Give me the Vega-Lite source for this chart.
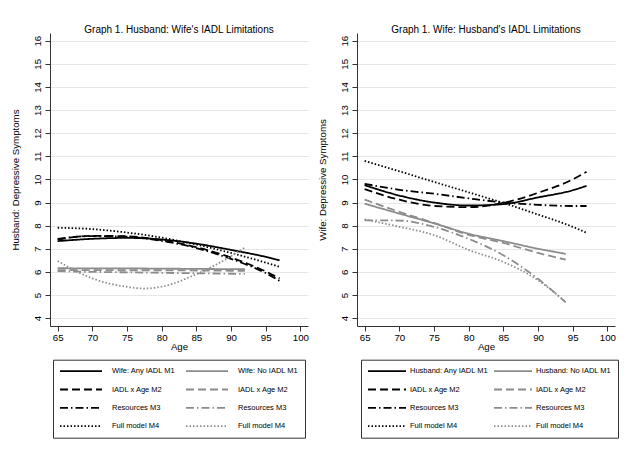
{
  "$schema": "https://vega.github.io/schema/vega-lite/v6.json",
  "background": "white",
  "padding": {"left": 9, "top": 25, "right": 0, "bottom": 0},
  "spacing": 7,
  "config": {
    "font": "Liberation Sans",
    "view": {"stroke": null},
    "axis": {"labelFont": "Liberation Sans", "titleFont": "Liberation Sans", "labelFontSize": 9.7, "titleFontSize": 9.7, "titleFontWeight": "normal", "labelColor": "black", "titleColor": "black", "domainColor": "#333333", "tickColor": "#333333", "gridColor": "#e6e6e6", "tickSize": 5},
    "title": {"font": "Liberation Sans", "fontSize": 10, "fontWeight": "normal", "anchor": "middle", "color": "black", "offset": -2},
    "legend": {"labelFont": "Liberation Sans", "labelFontSize": 7.5, "labelColor": "black"}
  },
  "datasets": {
    "L": [
      {"k":"1","a":65,"v":7.33},{"k":"1","a":70,"v":7.43},{"k":"1","a":75,"v":7.47},{"k":"1","a":80,"v":7.4},{"k":"1","a":85,"v":7.22},{"k":"1","a":90,"v":6.95},{"k":"1","a":95,"v":6.65},{"k":"1","a":97,"v":6.5},
      {"k":"3","a":65,"v":7.4},{"k":"3","a":70,"v":7.56},{"k":"3","a":75,"v":7.54},{"k":"3","a":80,"v":7.37},{"k":"3","a":85,"v":7.07},{"k":"3","a":90,"v":6.62},{"k":"3","a":95,"v":6.02},{"k":"3","a":97,"v":5.72},
      {"k":"5","a":65,"v":7.43},{"k":"5","a":70,"v":7.55},{"k":"5","a":75,"v":7.52},{"k":"5","a":80,"v":7.34},{"k":"5","a":85,"v":7.03},{"k":"5","a":90,"v":6.56},{"k":"5","a":95,"v":5.95},{"k":"5","a":97,"v":5.61},
      {"k":"7","a":65,"v":7.91},{"k":"7","a":70,"v":7.85},{"k":"7","a":75,"v":7.7},{"k":"7","a":80,"v":7.48},{"k":"7","a":85,"v":7.18},{"k":"7","a":90,"v":6.82},{"k":"7","a":95,"v":6.4},{"k":"7","a":97,"v":6.22},
      {"k":"2","a":65,"v":6.16},{"k":"2","a":70,"v":6.15},{"k":"2","a":75,"v":6.15},{"k":"2","a":80,"v":6.14},{"k":"2","a":85,"v":6.13},{"k":"2","a":90,"v":6.12},{"k":"2","a":92,"v":6.12},
      {"k":"4","a":65,"v":6.08},{"k":"4","a":70,"v":6.08},{"k":"4","a":75,"v":6.07},{"k":"4","a":80,"v":6.07},{"k":"4","a":85,"v":6.06},{"k":"4","a":90,"v":6.05},{"k":"4","a":92,"v":6.05},
      {"k":"6","a":65,"v":6.03},{"k":"6","a":70,"v":6.0},{"k":"6","a":75,"v":5.98},{"k":"6","a":80,"v":5.96},{"k":"6","a":85,"v":5.94},{"k":"6","a":90,"v":5.92},{"k":"6","a":92,"v":5.91},
      {"k":"8","a":65,"v":6.47},{"k":"8","a":70,"v":5.72},{"k":"8","a":75,"v":5.35},{"k":"8","a":77.5,"v":5.28},{"k":"8","a":80,"v":5.36},{"k":"8","a":85,"v":5.9},{"k":"8","a":90,"v":6.68},{"k":"8","a":92,"v":7.05}
    ],
    "R": [
      {"k":"1","a":65,"v":9.75},{"k":"1","a":70,"v":9.3},{"k":"1","a":75,"v":9.0},{"k":"1","a":80,"v":8.87},{"k":"1","a":85,"v":8.93},{"k":"1","a":90,"v":9.22},{"k":"1","a":95,"v":9.53},{"k":"1","a":97,"v":9.72},
      {"k":"3","a":65,"v":9.58},{"k":"3","a":70,"v":9.12},{"k":"3","a":75,"v":8.85},{"k":"3","a":80,"v":8.8},{"k":"3","a":85,"v":8.98},{"k":"3","a":90,"v":9.42},{"k":"3","a":95,"v":10.0},{"k":"3","a":97,"v":10.33},
      {"k":"5","a":65,"v":9.81},{"k":"5","a":70,"v":9.55},{"k":"5","a":75,"v":9.38},{"k":"5","a":80,"v":9.18},{"k":"5","a":85,"v":9.0},{"k":"5","a":90,"v":8.9},{"k":"5","a":95,"v":8.85},{"k":"5","a":97,"v":8.85},
      {"k":"7","a":65,"v":10.8},{"k":"7","a":70,"v":10.35},{"k":"7","a":75,"v":9.89},{"k":"7","a":80,"v":9.44},{"k":"7","a":85,"v":8.98},{"k":"7","a":90,"v":8.48},{"k":"7","a":95,"v":7.95},{"k":"7","a":97,"v":7.69},
      {"k":"2","a":65,"v":8.95},{"k":"2","a":70,"v":8.52},{"k":"2","a":75,"v":8.1},{"k":"2","a":80,"v":7.65},{"k":"2","a":85,"v":7.33},{"k":"2","a":90,"v":7.0},{"k":"2","a":94,"v":6.78},
      {"k":"4","a":65,"v":9.13},{"k":"4","a":70,"v":8.6},{"k":"4","a":75,"v":8.12},{"k":"4","a":80,"v":7.6},{"k":"4","a":85,"v":7.25},{"k":"4","a":90,"v":6.82},{"k":"4","a":94,"v":6.53},
      {"k":"6","a":65,"v":8.23},{"k":"6","a":70,"v":8.22},{"k":"6","a":75,"v":7.95},{"k":"6","a":80,"v":7.43},{"k":"6","a":85,"v":6.72},{"k":"6","a":90,"v":5.7},{"k":"6","a":94,"v":4.68},
      {"k":"8","a":65,"v":8.27},{"k":"8","a":70,"v":7.95},{"k":"8","a":75,"v":7.59},{"k":"8","a":80,"v":6.95},{"k":"8","a":85,"v":6.43},{"k":"8","a":90,"v":5.64},{"k":"8","a":94,"v":4.7}
    ]
  },
  "resolve": {"scale": {"color": "independent", "strokeDash": "independent"}, "legend": {"color": "independent", "strokeDash": "independent"}},
  "hconcat": [
    {
      "width": 258, "height": 293,
      "title": "Graph 1. Husband: Wife's IADL Limitations",
      "data": {"name": "L"},
      "mark": {"type": "line", "strokeWidth": 1.8, "interpolate": "monotone"},
      "encoding": {
        "x": {"field": "a", "type": "quantitative", "title": "Age", "scale": {"domain": [63.9, 101.1], "nice": false, "zero": false},
              "axis": {"values": [65,70,75,80,85,90,95,100], "grid": false, "labelPadding": 1, "titlePadding": 0}},
        "y": {"field": "v", "type": "quantitative", "title": "Husband: Depressive Symptoms", "scale": {"domain": [3.66, 16.33], "nice": false, "zero": false},
              "axis": {"values": [4,5,6,7,8,9,10,11,12,13,14,15,16], "grid": true, "labelAngle": -90, "labelAlign": "center", "labelBaseline": "bottom", "labelPadding": 3, "titlePadding": 12}},
        "color": {"field": "k", "type": "nominal", "scale": {"domain": ["1","3","5","7","2","4","6","8"], "range": ["black","black","black","black","#8c8c8c","#8c8c8c","#8c8c8c","#8c8c8c"]},
                  "legend": {"orient": "none", "legendX": 3, "legendY": 326.7, "title": null, "columns": 2, "symbolType": "stroke", "symbolSize": 1764, "symbolStrokeWidth": 1.8, "clipHeight": 11, "strokeColor": "#333333", "padding": 6, "rowPadding": 7.3, "columnPadding": 9, "labelOffset": 9,
                    "labelExpr": "datum.value=='1'?'Wife: Any IADL M1':datum.value=='2'?'Wife: No IADL M1':(datum.value=='3'||datum.value=='4')?'IADL x Age M2':(datum.value=='5'||datum.value=='6')?'Resources M3':'Full model M4'"}},
        "strokeDash": {"field": "k", "type": "nominal", "scale": {"domain": ["1","3","5","7","2","4","6","8"], "range": [[1,0],[8,4],[8,3,1.5,3],[1.5,2],[1,0],[8,4],[8,3,1.5,3],[1.5,2]]},
                  "legend": {"orient": "none", "legendX": 3, "legendY": 326.7, "title": null, "columns": 2, "symbolType": "stroke", "symbolSize": 1764, "symbolStrokeWidth": 1.8, "clipHeight": 11, "strokeColor": "#333333", "padding": 6, "rowPadding": 7.3, "columnPadding": 9, "labelOffset": 9,
                    "labelExpr": "datum.value=='1'?'Wife: Any IADL M1':datum.value=='2'?'Wife: No IADL M1':(datum.value=='3'||datum.value=='4')?'IADL x Age M2':(datum.value=='5'||datum.value=='6')?'Resources M3':'Full model M4'"}}
      }
    },
    {
      "width": 258, "height": 293,
      "title": "Graph 1. Wife: Husband's IADL Limitations",
      "data": {"name": "R"},
      "mark": {"type": "line", "strokeWidth": 1.8, "interpolate": "monotone"},
      "encoding": {
        "x": {"field": "a", "type": "quantitative", "title": "Age", "scale": {"domain": [63.9, 101.1], "nice": false, "zero": false},
              "axis": {"values": [65,70,75,80,85,90,95,100], "grid": false, "labelPadding": 1, "titlePadding": 0}},
        "y": {"field": "v", "type": "quantitative", "title": "Wife: Depressive Symptoms", "scale": {"domain": [3.66, 16.33], "nice": false, "zero": false},
              "axis": {"values": [4,5,6,7,8,9,10,11,12,13,14,15,16], "grid": true, "labelAngle": -90, "labelAlign": "center", "labelBaseline": "bottom", "labelPadding": 3, "titlePadding": 12}},
        "color": {"field": "k", "type": "nominal", "scale": {"domain": ["1","3","5","7","2","4","6","8"], "range": ["black","black","black","black","#8c8c8c","#8c8c8c","#8c8c8c","#8c8c8c"]},
                  "legend": {"orient": "none", "legendX": 4, "legendY": 326.7, "title": null, "columns": 2, "symbolType": "stroke", "symbolSize": 1444, "symbolStrokeWidth": 1.8, "clipHeight": 11, "strokeColor": "#333333", "padding": 6, "rowPadding": 7.3, "columnPadding": 4, "labelOffset": 3,
                    "labelExpr": "datum.value=='1'?'Husband: Any IADL M1':datum.value=='2'?'Husband: No IADL M1':(datum.value=='3'||datum.value=='4')?'IADL x Age M2':(datum.value=='5'||datum.value=='6')?'Resources M3':'Full model M4'"}},
        "strokeDash": {"field": "k", "type": "nominal", "scale": {"domain": ["1","3","5","7","2","4","6","8"], "range": [[1,0],[8,4],[8,3,1.5,3],[1.5,2],[1,0],[8,4],[8,3,1.5,3],[1.5,2]]},
                  "legend": {"orient": "none", "legendX": 4, "legendY": 326.7, "title": null, "columns": 2, "symbolType": "stroke", "symbolSize": 1444, "symbolStrokeWidth": 1.8, "clipHeight": 11, "strokeColor": "#333333", "padding": 6, "rowPadding": 7.3, "columnPadding": 4, "labelOffset": 3,
                    "labelExpr": "datum.value=='1'?'Husband: Any IADL M1':datum.value=='2'?'Husband: No IADL M1':(datum.value=='3'||datum.value=='4')?'IADL x Age M2':(datum.value=='5'||datum.value=='6')?'Resources M3':'Full model M4'"}}
      }
    }
  ]
}
